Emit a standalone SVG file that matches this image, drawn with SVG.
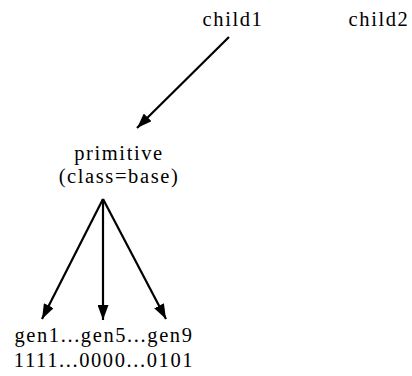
<svg xmlns="http://www.w3.org/2000/svg" width="412" height="376" viewBox="0 0 412 376">
<style>
text{font-family:"Liberation Serif","Times New Roman",serif;font-size:20.5px;fill:#000;text-anchor:middle;letter-spacing:1.6px}
.e{stroke:#000;stroke-width:2.2;fill:none;marker-end:url(#ah)}
</style>
<defs>
<marker id="ah" markerUnits="userSpaceOnUse" viewBox="0 0 15 11" refX="15" refY="5.5" markerWidth="15" markerHeight="11" orient="auto">
<path d="M0,0 L15,5.5 L0,11 z" fill="#000"/>
</marker>
</defs>
<rect width="412" height="376" fill="#fff"/>
<g id="edges">
<line class="e" x1="229" y1="37" x2="137" y2="128"/>
<line class="e" x1="103" y1="199" x2="42" y2="319"/>
<line class="e" x1="103" y1="199" x2="103" y2="320"/>
<line class="e" x1="103" y1="199" x2="166" y2="319"/>
</g>
<g id="child1"><text x="233" y="25.5">child1</text></g>
<g id="child2"><text x="379" y="25.5">child2</text></g>
<g id="primitive"><text x="119" y="159.5">primitive</text><text x="119" y="183">(class=base)</text></g>
<g id="gen"><text x="104" y="342">gen1...gen5...gen9</text><text x="104" y="366.5">1111...0000...0101</text></g>
</svg>
